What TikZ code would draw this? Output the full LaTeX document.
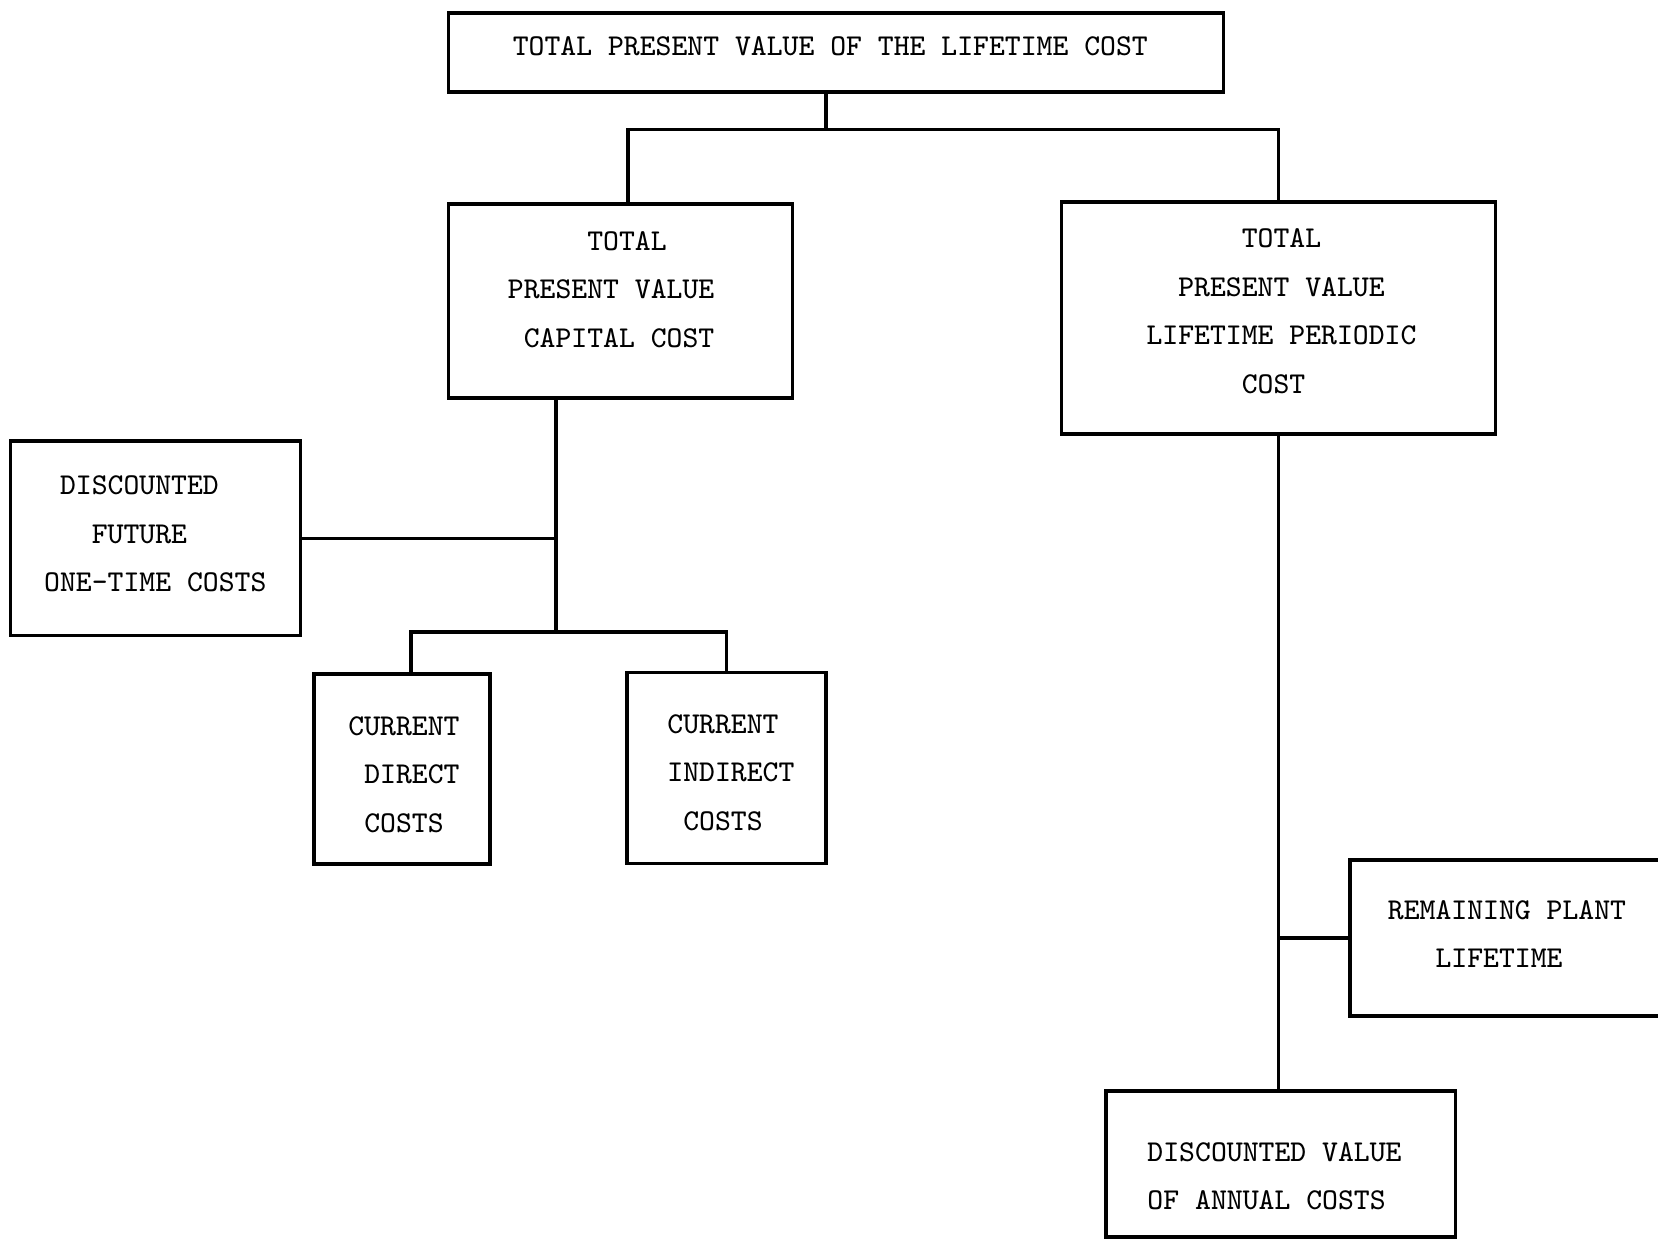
\documentclass[tikz,border=0pt]{standalone}
\usetikzlibrary{calc}
\newcommand\boxtext[3]{\raisebox{#2}[\height][\depth]{\kern#1\begin{tabular}{@{}l@{}}#3\end{tabular}\kern-#1}}
\tikzset{
  box/.style={draw, line width=0.9pt, rectangle, inner sep=0pt,
    font=\fontsize{8.6}{13.8}\selectfont\ttfamily},
  wire/.style={line width=0.9pt},
}
\begin{document}
\begin{tikzpicture}[x=0.01cm,y=-0.01cm]
\useasboundingbox (0,0) rectangle (1658,1243);
\node[box, minimum width=7.74cm, minimum height=0.79cm] (top) at (836,52.5)
  {\boxtext{-0.057cm}{0.063cm}{TOTAL PRESENT VALUE OF THE LIFETIME COST}};
\node[box, minimum width=3.43cm, minimum height=1.94cm] (cap) at (620.5,301)
  {\boxtext{-0.094cm}{0.12cm}{~~~~~TOTAL\\PRESENT VALUE\\~CAPITAL COST}};
\node[box, minimum width=4.33cm, minimum height=2.32cm] (per) at (1278.5,318)
  {\boxtext{0.03cm}{0.074cm}{~~~~~~TOTAL\\~~PRESENT VALUE\\LIFETIME PERIODIC\\~~~~~~COST}};
\node[box, minimum width=2.894cm, minimum height=1.945cm] (dfc) at (155.3,538.3)
  {\boxtext{0cm}{0.05cm}{~DISCOUNTED\\~~~FUTURE\\ONE-TIME COSTS}};
\node[box, minimum width=1.76cm, minimum height=1.90cm] (cdir) at (402,769)
  {\boxtext{0.02cm}{-0.05cm}{CURRENT\\~DIRECT\\~COSTS}};
\node[box, minimum width=1.99cm, minimum height=1.91cm] (cind) at (726.5,768)
  {\boxtext{0.044cm}{-0.04cm}{CURRENT\\INDIRECT\\~COSTS}};
\node[box, minimum width=3.30cm, minimum height=1.56cm] (rem) at (1515,938)
  {\boxtext{-0.08cm}{0.04cm}{REMAINING PLANT\\~~~LIFETIME}};
\node[box, minimum width=3.49cm, minimum height=1.46cm] (dva) at (1280.5,1164)
  {\boxtext{-0.06cm}{-0.12cm}{DISCOUNTED VALUE\\OF ANNUAL COSTS}};

% top tree
\draw[wire] ([xshift=-0.1cm]top.south) -- ++(0,36) coordinate (j1);
\draw[wire] ([xshift=0.075cm]cap.north) |- (j1) -| (per.north);

% capital cost branch
\coordinate (jc) at (556,535);
\coordinate (jb) at (556,632);
\draw[wire] (cap.south -| jc) -- (jb);
\draw[wire] (dfc.east) -- (dfc.east -| jc);
\draw[wire] ([xshift=0.09cm]cdir.north) |- (jb) -| (cind.north);

% periodic cost branch
\draw[wire] (per.south) -- (per.south |- dva.north);
\draw[wire] (rem.west) -- (rem.west -| per.south);
\end{tikzpicture}
\end{document}
